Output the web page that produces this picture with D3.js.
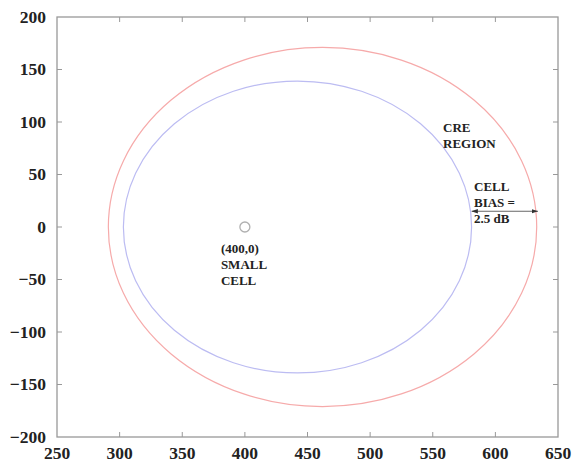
<!DOCTYPE html>
<html><head><meta charset="utf-8">
<script src="https://cdn.jsdelivr.net/npm/d3@7"></script>
<style>body{margin:0;background:#fff}svg{display:block}</style>
</head><body>
<script>
const xTicks = [250, 300, 350, 400, 450, 500, 550, 600, 650];
const yTicks = [-200, -150, -100, -50, 0, 50, 100, 150, 200];
const circleNames = ["CRE region", "Small cell coverage"];
const circleCx = [462, 442];
const circleCy = [0, 0];
const circleR = [171, 139];
const smallCell = [400, 0];
const biasArrowX = [581, 634];
const biasArrowY = 15;

const W = 575, H = 463;
const m = {left: 57, right: 17, top: 17, bottom: 26};
const svg = d3.select("body").append("svg").attr("width", W).attr("height", H);
const x = d3.scaleLinear().domain([250, 650]).range([m.left, W - m.right]);
const y = d3.scaleLinear().domain([-200, 200]).range([H - m.bottom, m.top]);
const font = "'Liberation Serif','Times New Roman',serif";
const frame = "#999";

const tk = 5;
const g = svg.append("g").attr("stroke", frame).attr("stroke-width", 1);
xTicks.slice(1, -1).forEach(v => {
  g.append("line").attr("x1", x(v)).attr("x2", x(v)).attr("y1", y(-200)).attr("y2", y(-200) - tk);
  g.append("line").attr("x1", x(v)).attr("x2", x(v)).attr("y1", y(200)).attr("y2", y(200) + tk);
});
yTicks.slice(1, -1).forEach(v => {
  g.append("line").attr("y1", y(v)).attr("y2", y(v)).attr("x1", x(250)).attr("x2", x(250) + tk);
  g.append("line").attr("y1", y(v)).attr("y2", y(v)).attr("x1", x(650)).attr("x2", x(650) - tk);
});
svg.append("rect").attr("x", x(250)).attr("y", y(200))
  .attr("width", x(650) - x(250)).attr("height", y(-200) - y(200))
  .attr("fill", "none").attr("stroke", frame).attr("stroke-width", 1.3);

const fmt = d3.format("d");
svg.append("g").selectAll("text").data(xTicks).join("text")
  .attr("x", d => x(d)).attr("y", H - 4).attr("text-anchor", "middle")
  .attr("font-family", font).attr("font-size", 17.5).attr("font-weight", "bold").attr("fill", "#222")
  .text(d => fmt(d).replace("-", "\u2212"));
svg.append("g").selectAll("text").data(yTicks).join("text")
  .attr("x", 46).attr("y", d => y(d) + 5.5).attr("text-anchor", "end")
  .attr("font-family", font).attr("font-size", 17.5).attr("font-weight", "bold").attr("fill", "#222")
  .text(d => fmt(d).replace("-", "\u2212"));

const colors = ["#f6aaaa", "#bcbcf2"];
svg.append("g").selectAll("ellipse").data(circleNames).join("ellipse")
  .attr("cx", (d, i) => x(circleCx[i])).attr("cy", (d, i) => y(circleCy[i]))
  .attr("rx", (d, i) => x(circleCx[i] + circleR[i]) - x(circleCx[i]))
  .attr("ry", (d, i) => y(circleCy[i]) - y(circleCy[i] + circleR[i]))
  .attr("fill", "none").attr("stroke", (d, i) => colors[i]).attr("stroke-width", 1.2);

svg.append("circle").attr("cx", x(smallCell[0])).attr("cy", y(smallCell[1])).attr("r", 5)
  .attr("fill", "none").attr("stroke", "#b0b0b0").attr("stroke-width", 1.3);

const lab = (px, py, lines) => {
  const t = svg.append("text").attr("font-family", font).attr("font-size", 13)
    .attr("font-weight", "bold").attr("fill", "#222");
  lines.forEach((s, i) => t.append("tspan").attr("x", px).attr("y", py + i * 16).text(s));
};
lab(x(smallCell[0]) - 24, y(smallCell[1]) + 26, ["(400,0)", "SMALL", "CELL"]);
lab(443, 132, ["CRE", "REGION"]);
lab(474, 191, ["CELL", "BIAS =", "2.5 dB"]);

const defs = svg.append("defs");
defs.append("marker").attr("id", "ah").attr("viewBox", "0 0 10 10").attr("refX", 10).attr("refY", 5)
  .attr("markerWidth", 7).attr("markerHeight", 7).attr("orient", "auto-start-reverse")
  .append("path").attr("d", "M0,1.5 L10,5 L0,8.5 Z").attr("fill", "#333");
svg.append("line").attr("x1", x(biasArrowX[0])).attr("x2", x(biasArrowX[1]))
  .attr("y1", y(biasArrowY)).attr("y2", y(biasArrowY))
  .attr("stroke", "#555").attr("stroke-width", 0.9)
  .attr("marker-start", "url(#ah)").attr("marker-end", "url(#ah)");
</script>
</body></html>
